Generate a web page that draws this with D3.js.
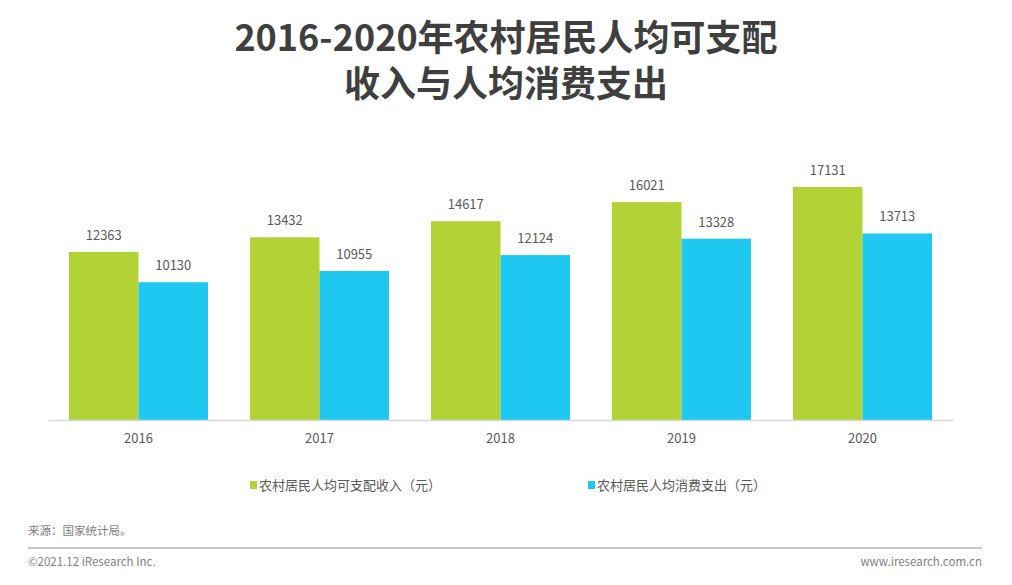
<!DOCTYPE html>
<html>
<head>
<meta charset="utf-8">
<script src="https://cdn.jsdelivr.net/npm/d3@7"></script>
<style>
  body { margin: 0; background: #fff; }
  svg { display: block; font-family: "Noto Sans CJK SC", "Noto Sans", sans-serif; }
</style>
</head>
<body>
<svg id="chart" width="1012" height="585"></svg>
<script>
// 2016-2020 rural per-capita income vs consumption

const YEARS = ['2016', '2017', '2018', '2019', '2020'];
const INCOME = [12363, 13432, 14617, 16021, 17131];
const SPENDING = [10130, 10955, 12124, 13328, 13713];
const SERIES_NAMES = ['农村居民人均可支配收入（元）', '农村居民人均消费支出（元）'];
const COLORS = ['#b3d236', '#1ec8f0'];

const svg = d3.select('#chart');
const TEXT = '#595959';

// -----------------------------------------------------------------------------
// TITLE
// -----------------------------------------------------------------------------

const title = svg.append('text')
  .attr('x', 506).attr('text-anchor', 'middle')
  .attr('fill', '#3f3f3f').attr('font-size', 36).attr('font-weight', 700);
title.append('tspan').attr('x', 506).attr('y', 51).text('2016-2020年农村居民人均可支配');
title.append('tspan').attr('x', 506).attr('y', 97).text('收入与人均消费支出');

// -----------------------------------------------------------------------------
// SCALES
// -----------------------------------------------------------------------------

const baseY = 420;
const x = d3.scaleBand().domain(YEARS).range([48, 953]).paddingInner(0.232).paddingOuter(0.116);
const inner = d3.scaleBand().domain([0, 1]).range([0, x.bandwidth()]);
const y = d3.scaleLinear().domain([0, 17131]).range([baseY, 187]);

const rows = YEARS.map((yr, i) => ({ year: yr, values: [INCOME[i], SPENDING[i]] }));

// -----------------------------------------------------------------------------
// BARS
// -----------------------------------------------------------------------------

const groups = svg.append('g').selectAll('g')
  .data(rows).enter().append('g')
  .attr('transform', d => `translate(${x(d.year)},0)`);

groups.selectAll('rect')
  .data(d => d.values.map((v, k) => ({ v, k })))
  .enter().append('rect')
  .attr('x', d => inner(d.k))
  .attr('width', inner.bandwidth())
  .attr('y', d => y(d.v))
  .attr('height', d => baseY - y(d.v))
  .attr('fill', d => COLORS[d.k]);

groups.selectAll('text')
  .data(d => d.values.map((v, k) => ({ v, k })))
  .enter().append('text')
  .attr('x', d => inner(d.k) + inner.bandwidth() / 2)
  .attr('y', d => y(d.v) - 12)
  .attr('text-anchor', 'middle')
  .attr('font-size', 13)
  .attr('fill', TEXT)
  .text(d => d.v);

// -----------------------------------------------------------------------------
// AXIS
// -----------------------------------------------------------------------------

const axis = svg.append('g')
  .attr('transform', `translate(0,${baseY})`)
  .call(d3.axisBottom(x).tickSize(0).tickPadding(14));
axis.select('.domain').attr('stroke', '#d9d9d9').attr('stroke-width', 1.5);
axis.selectAll('text').attr('font-size', 13).attr('fill', TEXT)
  .attr('font-family', '"Noto Sans CJK SC", "Noto Sans", sans-serif');

// -----------------------------------------------------------------------------
// LEGEND
// -----------------------------------------------------------------------------

const legendX = [250, 588];
const legend = svg.append('g').selectAll('g')
  .data(SERIES_NAMES).enter().append('g')
  .attr('transform', (d, i) => `translate(${legendX[i]},485)`);
legend.append('rect').attr('x', 0).attr('y', -4).attr('width', 7).attr('height', 8)
  .attr('fill', (d, i) => COLORS[i]);
legend.append('text').attr('x', 9).attr('y', 5)
  .attr('font-size', 13).attr('fill', TEXT).text(d => d);

// -----------------------------------------------------------------------------
// FOOTER
// -----------------------------------------------------------------------------

svg.append('text').attr('x', 28).attr('y', 535)
  .attr('font-size', 11.5).attr('fill', '#7f7f7f').text('来源：国家统计局。');
svg.append('line').attr('x1', 28).attr('x2', 982).attr('y1', 548).attr('y2', 548)
  .attr('stroke', '#c8c8c8').attr('stroke-width', 2);
svg.append('text').attr('x', 28).attr('y', 566)
  .attr('font-size', 11.5).attr('fill', '#7f7f7f').text('©2021.12 iResearch Inc.');
svg.append('text').attr('x', 982).attr('y', 566).attr('text-anchor', 'end')
  .attr('font-size', 11.5).attr('fill', '#7f7f7f').text('www.iresearch.com.cn');
</script>
</body>
</html>
